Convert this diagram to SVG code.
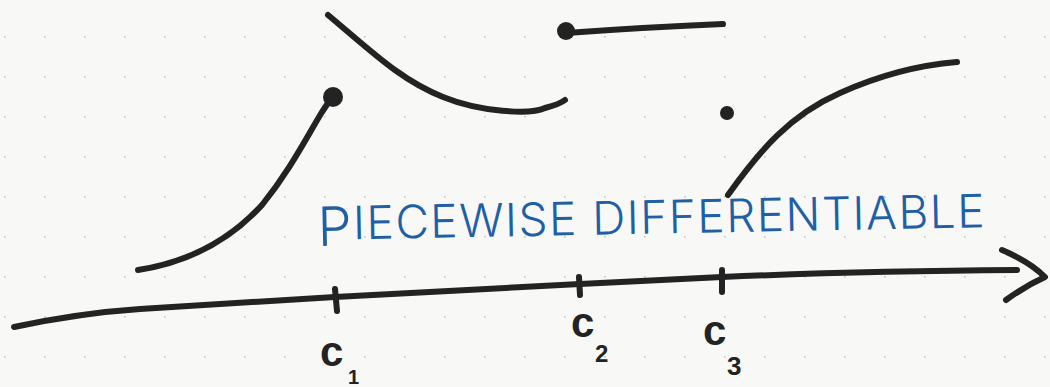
<svg xmlns="http://www.w3.org/2000/svg" width="1050" height="387" viewBox="0 0 1050 387">
<defs>
<pattern id="dots" x="4" y="36" width="40" height="40" patternUnits="userSpaceOnUse">
<circle cx="0.5" cy="0.5" r="1.3" fill="#c9c9c6"/>
</pattern>
<style>
.ink{fill:none;stroke:#222322;stroke-width:6;stroke-linecap:round;stroke-linejoin:round}
.dot{fill:#222322}
.lbl{font-family:"Liberation Sans",Arial,sans-serif;font-weight:bold;fill:#222322}
.title{font-family:Inter,Lato,"Liberation Sans",sans-serif;font-weight:300;fill:#1f5fa6}
</style>
</defs>
<rect width="1050" height="387" fill="#f8f8f6"/>
<rect width="1050" height="387" fill="url(#dots)"/>
<g id="axis">
<path class="ink" d="M14,327 Q80,313 140,309 L335,297 Q460,290 580,284 L722,277 Q860,271 1017,270"/>
<path class="ink" d="M1002,250 Q1030,262 1045,277 Q1025,286 1006,300"/>
<path class="ink" d="M335,289 L337,311"/>
<path class="ink" d="M579,277 L580,295"/>
<path class="ink" d="M722,270 L722,292"/>
</g>
<g id="pieces">
<path class="ink" d="M138,270 C190,262 230,240 262,205 C290,170 305,140 322,112 L332,97"/>
<circle class="dot" cx="333" cy="97" r="10"/>
<path class="ink" d="M328,15 C370,50 400,80 443,97 C480,112 530,115 545,108 Q560,104 565,100"/>
<circle class="dot" cx="566" cy="31" r="9"/>
<path class="ink" d="M566,33 Q650,27 723,24"/>
<circle class="dot" cx="727" cy="113" r="7"/>
<path class="ink" d="M728,195 C760,150 790,115 840,93 C880,75 920,65 957,62"/>
</g>
<g id="labels">
<text class="lbl" x="320" y="366" font-size="42">c</text>
<text class="lbl" x="348" y="384" font-size="20">1</text>
<text class="lbl" x="571" y="337" font-size="42">c</text>
<text class="lbl" x="595" y="362" font-size="24">2</text>
<text class="lbl" x="703" y="345" font-size="42">c</text>
<text class="lbl" x="727" y="375" font-size="26">3</text>
<text class="title" x="318" y="240" font-size="46" textLength="667" lengthAdjust="spacing" transform="rotate(-1.1 318 240)"><tspan font-size="54" dy="6">P</tspan><tspan dy="-6">IECEWISE DIFFERENTIABLE</tspan></text>
</g>
</svg>
